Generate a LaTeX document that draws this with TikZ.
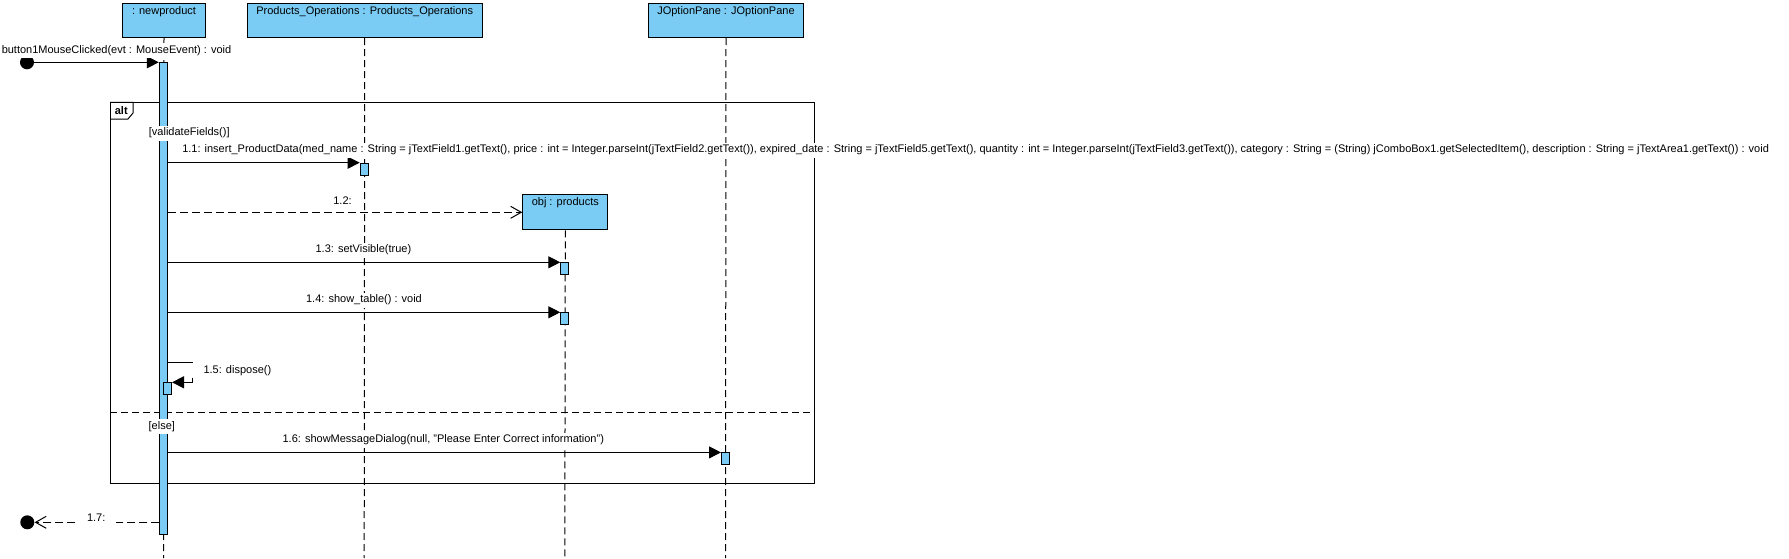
\documentclass[tikz,border=0pt]{standalone}
\usepackage{fontspec}
\setmainfont{Liberation Sans}
\usetikzlibrary{arrows.meta}
\definecolor{vpblue}{RGB}{122,204,245}
\begin{document}
\begin{tikzpicture}[x=0.75pt,y=-0.75pt,
  font=\fontsize{8.25}{9.9}\selectfont,
  objbox/.style={draw=black, fill=vpblue, line width=0.75pt, inner sep=0pt, anchor=north west},
  objlbl/.style={anchor=north, inner sep=0pt, yshift=-2.2pt},
  actbar/.style={draw=black, fill=vpblue, line width=0.75pt, inner sep=0pt, anchor=north, minimum width=6pt},
  lifeline/.style={line width=0.75pt, dash pattern=on 5.25pt off 3pt},
  msg/.style={line width=0.75pt, -{Triangle[length=9pt,width=9pt]}},
  reply/.style={line width=0.75pt, dash pattern=on 6pt off 3pt, -{Straight Barb[length=8pt,width=9pt,line width=0.75pt]}},
  msglbl/.style={fill=white, inner xsep=8pt, inner ysep=0pt, minimum height=11.25pt},
  guard/.style={fill=white, inner xsep=0.5pt, inner ysep=0pt, minimum height=11.25pt, anchor=west},
  dot/.style={circle, fill=black, inner sep=0pt, minimum size=10.5pt}
]
\useasboundingbox (0,0) rectangle (1789,558);
\fill[white] (0,0) rectangle (1789,558);

% lifeline heads
\node[objbox, minimum width=62.25pt, minimum height=25.5pt, label={[objlbl]north:{: newproduct}}] (np) at (122,3) {};
\node[objbox, minimum width=176.25pt, minimum height=25.5pt, label={[objlbl]north:{Products\_Operations : Products\_Operations}}] (po) at (246.7,3) {};
\node[objbox, minimum width=116.25pt, minimum height=25.5pt, label={[objlbl]north:{JOptionPane : JOptionPane}}] (jo) at (648,3) {};

% lifeline ends
\coordinate (npE) at (163.5,558);
\coordinate (poE) at (364.2,558);
\coordinate (joE) at (725.5,558);
\coordinate (obE) at (564.8,558);

\draw[lifeline] (np.south) -- (npE);
\draw[lifeline] (po.south) -- (poE);
\draw[lifeline] (jo.south) -- (joE);

% created object
\node[objbox, minimum width=63.75pt, minimum height=26.25pt, label={[objlbl]north:{obj : products}}] (ob) at (522.3,194.3) {};
\draw[lifeline] (ob.south) -- (obE);

% combined fragment
\node[draw=black, line width=0.75pt, inner sep=0pt, anchor=north west, minimum width=528.2pt, minimum height=285.75pt] (alt) at (110,102.3) {};
\draw[line width=0.75pt] (alt.north west) -| ++(23,10.7) -- ++(-5,6) -- ++(-18,0);
\node[font=\fontsize{8.25}{9.9}\selectfont\bfseries, inner sep=0pt] (alttag) at (121.3,110.3) {alt};
\coordinate (divL) at (110,412.3);
\coordinate (divR) at (814.3,412.3);
\draw[lifeline] (divL) -- (divR);

% activation bars
\node[actbar, minimum height=353.8pt] (a0) at (163.3,62.3) {};
\node[actbar, minimum height=9pt] (a11) at (364.2,162.7) {};
\node[actbar, minimum height=9pt] (a13) at (564.8,262.3) {};
\node[actbar, minimum height=9pt] (a14) at (564.8,312.3) {};
\node[actbar, minimum height=9pt] (a15) at (167.5,382.3) {};
\node[actbar, minimum height=9pt] (a16) at (725.5,452.4) {};

% found / lost message ends
\node[dot] (start) at (27,62.3) {};
\node[dot] (stop) at (27.3,522.3) {};

% messages
\draw[msg] (start) -- (a0.north west);
\draw[msg] (a0.east |- a11.north) -- (a11.north west);
\draw[reply] (a0.east |- ob.west) -- (ob.west);
\draw[msg] (a0.east |- a13.north) -- (a13.north west);
\draw[msg] (a0.east |- a14.north) -- (a14.north west);
\coordinate (s1) at (192.7,362.3);
\coordinate (s2) at (192.7,377.7);
\coordinate (s3) at (192.7,382.3);
\draw[line width=0.75pt] (a0.east |- s1) -- (s1);
\draw[msg] (s2) -- (s3) -- (a15.north east);
\draw[msg] (a0.east |- a16.north) -- (a16.north west);
\coordinate (r7) at (159.3,522.3);
\draw[reply] (r7) -- (stop);

% labels
\node[msglbl, anchor=west, inner xsep=0pt] (lin) at (1.5,50.7) {button1MouseClicked(evt : MouseEvent) : void};
\node[guard] (g1) at (148,133) {[validateFields()]};
\node[msglbl, anchor=west, xshift=-8pt] (l11) at (182,150) {1.1: insert\_ProductData(med\_name : String = jTextField1.getText(), price : int = Integer.parseInt(jTextField2.getText()), expired\_date : String = jTextField5.getText(), quantity : int = Integer.parseInt(jTextField3.getText()), category : String = (String) jComboBox1.getSelectedItem(), description : String = jTextArea1.getText()) : void};
\node[msglbl] (l12) at (342.5,201) {1.2:};
\node[msglbl] (l13) at (363.4,250) {1.3: setVisible(true)};
\node[msglbl] (l14) at (364,300) {1.4: show\_table() : void};
\node[msglbl, anchor=west, xshift=-8pt] (l15) at (203.3,370.7) {1.5: dispose()};
\node[guard] (g2) at (147.7,426.7) {[else]};
\node[msglbl] (l16) at (443.3,440) {1.6: showMessageDialog(null, "Please Enter Correct information")};
\node[msglbl] (l17) at (96.2,517.3) {1.7:};
\end{tikzpicture}
\end{document}
